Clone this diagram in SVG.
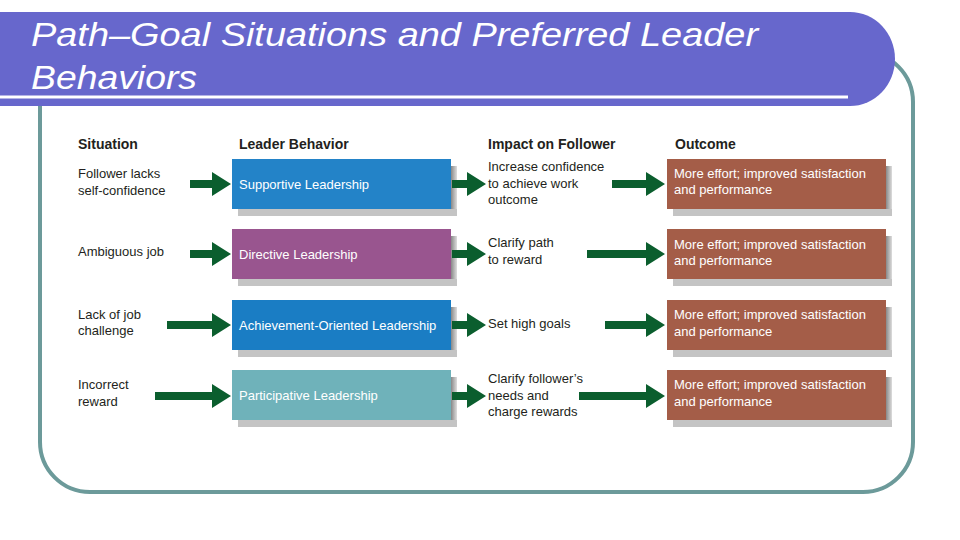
<svg xmlns="http://www.w3.org/2000/svg" width="960" height="540" viewBox="0 0 960 540">
<defs>
<style>
.hdr{font-family:"Liberation Sans",Arial,sans-serif;font-weight:bold;font-size:14px;fill:#231f20}
.t{font-family:"Liberation Sans",Arial,sans-serif;font-size:13px;fill:#231f20}
.w{font-family:"Liberation Sans",Arial,sans-serif;font-size:13px;fill:#ffffff}
.arr{fill:#0b5e2e}
.sh{fill:#c4c4c4}
.out{fill:#a45d48}
</style>
<linearGradient id="shg" x1="0" y1="0" x2="1" y2="0">
<stop offset="0" stop-color="#888"/>
<stop offset="1" stop-color="#ddd"/>
</linearGradient>
</defs>
<rect width="960" height="540" fill="#ffffff"/>
<g id="frame">
<rect x="40" y="52" width="873" height="440" rx="50" ry="50" fill="none" stroke="#6c9a9a" stroke-width="4"/>
</g>
<g id="title">
<path d="M0 12 H850 A45 47 0 0 1 850 106 H0 Z" fill="#6767cc"/>
<line x1="0" y1="97" x2="848" y2="97" stroke="#ffffff" stroke-width="3"/>
<text x="31" y="46" font-family="Liberation Sans,Arial,sans-serif" font-style="italic" font-size="34" fill="#ffffff" textLength="727" lengthAdjust="spacingAndGlyphs">Path–Goal Situations and Preferred Leader</text>
<text x="31" y="89" font-family="Liberation Sans,Arial,sans-serif" font-style="italic" font-size="34" fill="#ffffff" textLength="166" lengthAdjust="spacingAndGlyphs">Behaviors</text>
</g>
<g id="headers">
<text class="hdr" x="78" y="149">Situation</text>
<text class="hdr" x="239" y="149">Leader Behavior</text>
<text class="hdr" x="488" y="149">Impact on Follower</text>
<text class="hdr" x="675" y="149">Outcome</text>
</g>
<g id="row1">
<g id="sit1"><text class="t" x="78" y="178">Follower lacks</text><text class="t" x="78" y="195">self-confidence</text></g>
<g id="lead1"><rect class="sh" x="238" y="166" width="219" height="50"/><rect x="451" y="166" width="6" height="43" fill="url(#shg)"/><rect x="232" y="159" width="219" height="50" fill="#2383c8"/><text class="w" x="239" y="189">Supportive Leadership</text></g>
<g id="imp1"><text class="t" x="488" y="171">Increase confidence</text><text class="t" x="488" y="188">to achieve work</text><text class="t" x="488" y="204">outcome</text></g>
<g id="out1"><rect class="sh" x="673" y="166" width="219" height="50"/><rect x="886" y="166" width="6" height="43" fill="url(#shg)"/><rect class="out" x="667" y="159" width="219" height="50"/><text class="w" x="674" y="178">More effort; improved satisfaction</text><text class="w" x="674" y="194">and performance</text></g>
</g>
<g id="row2">
<g id="sit2"><text class="t" x="78" y="256">Ambiguous job</text></g>
<g id="lead2"><rect class="sh" x="238" y="236" width="219" height="50"/><rect x="451" y="236" width="6" height="43" fill="url(#shg)"/><rect x="232" y="229" width="219" height="50" fill="#99558f"/><text class="w" x="239" y="259">Directive Leadership</text></g>
<g id="imp2"><text class="t" x="488" y="247">Clarify path</text><text class="t" x="488" y="264">to reward</text></g>
<g id="out2"><rect class="sh" x="673" y="236" width="219" height="50"/><rect x="886" y="236" width="6" height="43" fill="url(#shg)"/><rect class="out" x="667" y="229" width="219" height="50"/><text class="w" x="674" y="249">More effort; improved satisfaction</text><text class="w" x="674" y="265">and performance</text></g>
</g>
<g id="row3">
<g id="sit3"><text class="t" x="78" y="319">Lack of job</text><text class="t" x="78" y="335">challenge</text></g>
<g id="lead3"><rect class="sh" x="238" y="307" width="219" height="50"/><rect x="451" y="307" width="6" height="43" fill="url(#shg)"/><rect x="232" y="300" width="219" height="50" fill="#1a7dc4"/><text class="w" x="239" y="330">Achievement-Oriented Leadership</text></g>
<g id="imp3"><text class="t" x="488" y="328">Set high goals</text></g>
<g id="out3"><rect class="sh" x="673" y="307" width="219" height="50"/><rect x="886" y="307" width="6" height="43" fill="url(#shg)"/><rect class="out" x="667" y="300" width="219" height="50"/><text class="w" x="674" y="319">More effort; improved satisfaction</text><text class="w" x="674" y="336">and performance</text></g>
</g>
<g id="row4">
<g id="sit4"><text class="t" x="78" y="389">Incorrect</text><text class="t" x="78" y="406">reward</text></g>
<g id="lead4"><rect class="sh" x="238" y="377" width="219" height="50"/><rect x="451" y="377" width="6" height="43" fill="url(#shg)"/><rect x="232" y="370" width="219" height="50" fill="#6fb2ba"/><text class="w" x="239" y="400">Participative Leadership</text></g>
<g id="imp4"><text class="t" x="488" y="383">Clarify follower’s</text><text class="t" x="488" y="400">needs and</text><text class="t" x="488" y="416">charge rewards</text></g>
<g id="out4"><rect class="sh" x="673" y="377" width="219" height="50"/><rect x="886" y="377" width="6" height="43" fill="url(#shg)"/><rect class="out" x="667" y="370" width="219" height="50"/><text class="w" x="674" y="389">More effort; improved satisfaction</text><text class="w" x="674" y="406">and performance</text></g>
</g>
<g id="connectors">
<polygon class="arr" points="190,180 212,180 212,172 231,184 212,196 212,188 190,188"/>
<polygon class="arr" points="452,180 467,180 467,172 486,184 467,196 467,188 452,188"/>
<polygon class="arr" points="612,180 646,180 646,172 665,184 646,196 646,188 612,188"/>
<polygon class="arr" points="190,250 212,250 212,242 231,254 212,266 212,258 190,258"/>
<polygon class="arr" points="452,250 467,250 467,242 486,254 467,266 467,258 452,258"/>
<polygon class="arr" points="587,250 646,250 646,242 665,254 646,266 646,258 587,258"/>
<polygon class="arr" points="167,321 212,321 212,313 231,325 212,337 212,329 167,329"/>
<polygon class="arr" points="452,321 467,321 467,313 486,325 467,337 467,329 452,329"/>
<polygon class="arr" points="605,321 646,321 646,313 665,325 646,337 646,329 605,329"/>
<polygon class="arr" points="155,392 212,392 212,384 231,396 212,408 212,400 155,400"/>
<polygon class="arr" points="452,392 467,392 467,384 486,396 467,408 467,400 452,400"/>
<polygon class="arr" points="579,392 646,392 646,384 665,396 646,408 646,400 579,400"/>
</g>
</svg>
